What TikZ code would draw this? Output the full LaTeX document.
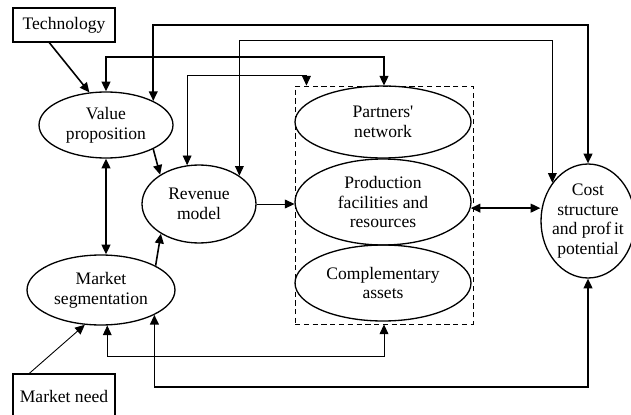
\documentclass[tikz,border=0pt]{standalone}
\usepackage{fontspec}
\setmainfont{Liberation Serif}
\usetikzlibrary{shapes.geometric,arrows.meta}

\begin{document}
\begin{tikzpicture}[x=0.02cm,y=-0.02cm,
  font=\fontsize{10}{11.3}\selectfont,
  oval/.style={draw,ellipse,inner sep=0pt,line width=0.75pt,align=center},
  factor/.style={draw,rectangle,inner sep=0pt,line width=0.65pt},
  link/.style={line width=0.9pt,-{Triangle[length=5.5pt,width=5pt]}},
  thinlink/.style={line width=0.5pt,-{Triangle[length=5.5pt,width=5pt]}},
  twoway/.style={line width=0.9pt,{Triangle[length=5.5pt,width=5pt]}-{Triangle[length=5.5pt,width=5pt]}},
  thintwoway/.style={line width=0.5pt,{Triangle[length=5.5pt,width=5pt]}-{Triangle[length=5.5pt,width=5pt]}}]
\useasboundingbox (0,0) rectangle (631,415);

% inputs
\node[factor,minimum width=2.04cm,minimum height=0.68cm] (tech) at (64,25) {Technology};
\node[factor,minimum width=2.04cm,minimum height=0.88cm] (need) at (64,396) {Market need};

% left side
\node[oval,minimum width=2.68cm,minimum height=1.32cm] (value) at (106,125) {Value\\proposition};
\node[oval,minimum width=2.28cm,minimum height=1.56cm] (revenue) at (199,204) {Revenue\\model};
\node[oval,minimum width=2.96cm,minimum height=1.40cm] (market) at (101,290) {Market\\segmentation};

% value chain group
\node[draw,dash pattern=on 3pt off 2pt,line width=0.5pt,minimum width=3.56cm,minimum height=4.76cm] (group) at (384,205) {};
\node[oval,minimum width=3.52cm,minimum height=1.44cm] (partners) at (383,122) {Partners\textquotesingle\\network};
\node[oval,minimum width=3.52cm,minimum height=1.72cm] (production) at (383,202) {Production\\facilities and\\resources};
\node[oval,minimum width=3.52cm,minimum height=1.52cm] (complement) at (383,283) {Complementary\\assets};

\node[oval,inner xsep=-3pt,minimum width=1.88cm,minimum height=2.28cm] (cost) at (588,221) {Cost\\structure\\and prof\,it\\potential};

% straight links
\draw[link] (tech.230) -- (value.117);
\draw[thinlink] (need.147) -- (market.245);
\draw[link] (value.-27) -- (revenue.143);
\draw[link] (market.24) -- (revenue.218);
\draw[thinlink] (revenue.east) -- (revenue.east -| group.west);
\draw[twoway] (value.south) -- (value.south |- market.north);
\draw[twoway] (production.-4) -- (production.-4 -| cost.west);

% loops over the top
\draw[twoway] (value.27) |- (cost.north |- 0,25) -- (cost.north);
\draw[thintwoway] (revenue.35) |- (cost.133 |- 0,40) -- (cost.133);
\draw[twoway] (value.north) |- (group.north |- 0,57) -- (group.north);
\draw[thintwoway] (revenue.107) |- (group.123 |- 0,75) -- (group.123);

% loops underneath
\draw[thintwoway] (market.-80) |- (group.south |- 0,356) -- (group.south);
\draw[twoway] (market.-25) |- (cost.south |- 0,387) -- (cost.south);
\end{tikzpicture}
\end{document}
